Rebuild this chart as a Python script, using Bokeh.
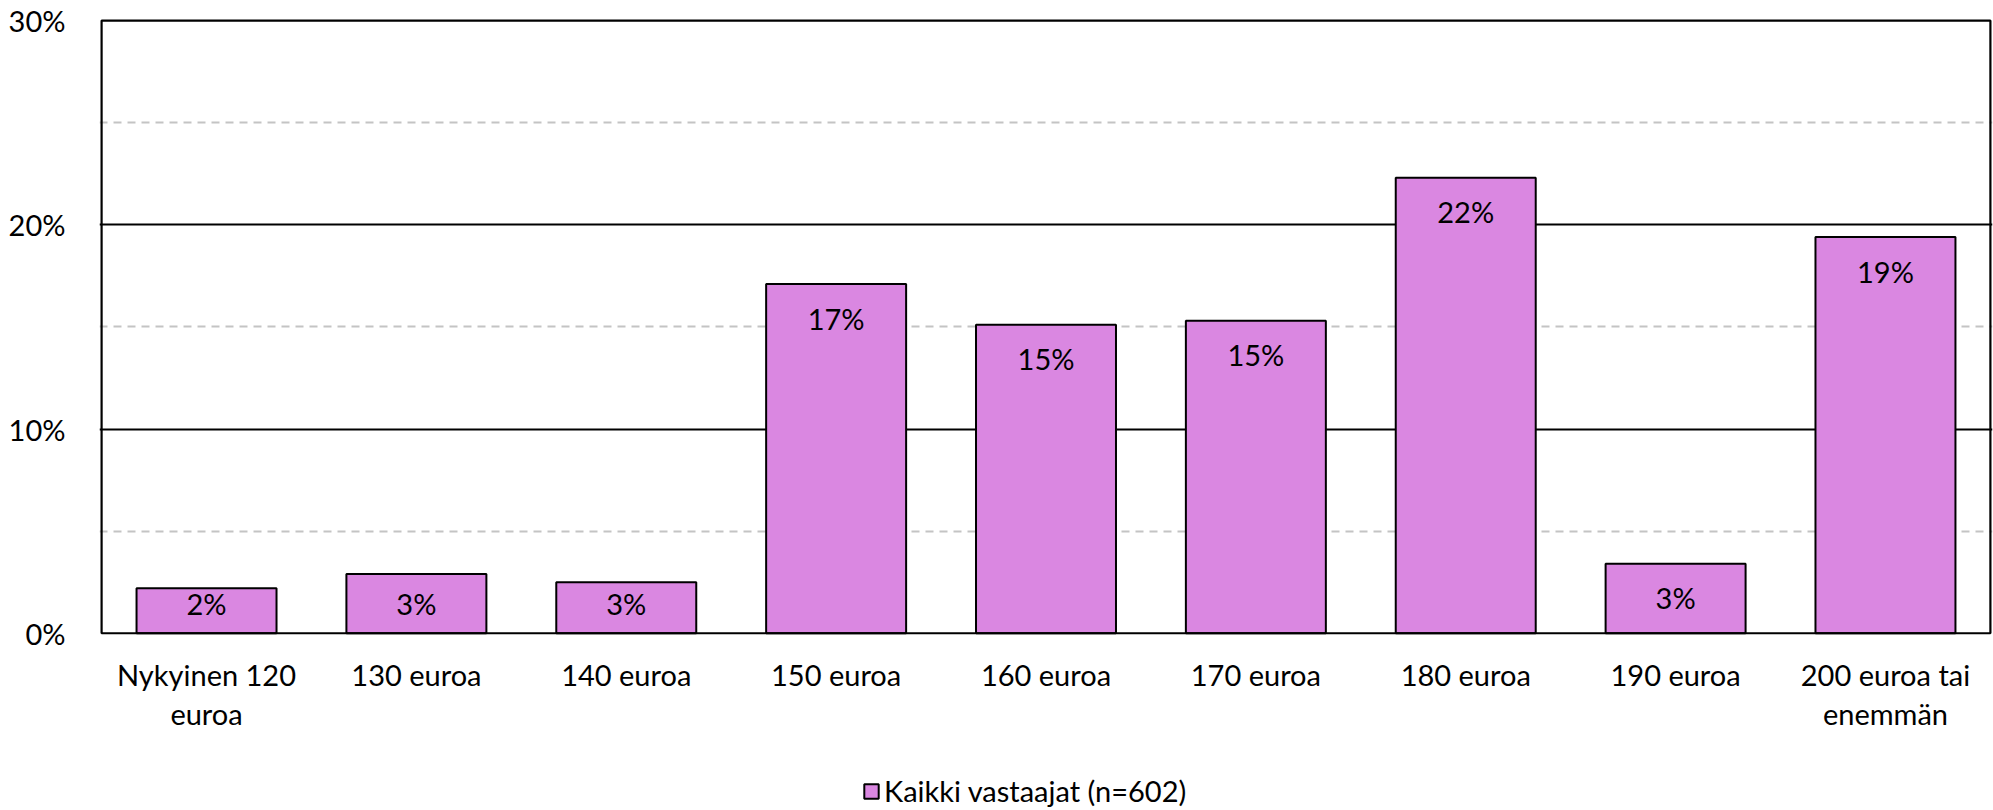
from bokeh.plotting import figure
from bokeh.models import (FactorRange, Range1d, FixedTicker, PrintfTickFormatter,
                          ColumnDataSource, Legend, LegendItem, BoxAnnotation)
from bokeh.core.properties import value
from bokeh.embed import file_html
from bokeh.resources import INLINE

categories = ["Nykyinen 120\neuroa", "130 euroa", "140 euroa", "150 euroa", "160 euroa",
              "170 euroa", "180 euroa", "190 euroa", "200 euroa tai\nenemmän"]
values = [2.2, 2.9, 2.5, 17.1, 15.1, 15.3, 22.3, 3.4, 19.4]
series_name = "Kaikki vastaajat (n=602)"
y_ticks = [0, 10, 20, 30]
y_minor = [5, 15, 25]

FONT = "Lato"
FS = "29px"

labels = ["%d%%" % int(v + 0.5) for v in values]
label_y = [v - 1.67 if v > 3.34 else max(v / 2, 1.45) for v in values]
src = ColumnDataSource(dict(cat=categories, val=values, lab=labels, ly=label_y,
                            base=[0] * len(values)))

p = figure(x_range=FactorRange(factors=categories, range_padding=0.01,
                               range_padding_units="absolute"),
           y_range=Range1d(-8.68, 30.1),
           width=1993, height=810, output_backend="svg", toolbar_location=None,
           min_border_left=99, min_border_right=1, min_border_top=18, min_border_bottom=0)
p.outline_line_color = None

p.xgrid.grid_line_color = None
p.ygrid.ticker = FixedTicker(ticks=y_ticks[1:-1], minor_ticks=y_minor)
p.ygrid.grid_line_color = "black"
p.ygrid.grid_line_width = 2.2
p.ygrid.minor_grid_line_color = "#C4C4C4"
p.ygrid.minor_grid_line_width = 2
p.ygrid.minor_grid_line_dash = "8 6"

bars = p.vbar(x="cat", top="val", width=0.667, source=src, fill_color="#DA87E1",
              line_color="black", line_width=2)
p.text(x="cat", y="ly", text="lab", source=src, text_align="center", text_baseline="middle",
       text_font=value(FONT), text_font_size=FS, text_color="black")
# category labels under the plot box
p.text(x="cat", y="base", text="cat", source=src, text_align="center", text_baseline="top",
       y_offset=24, text_line_height=1.12,
       text_font=value(FONT), text_font_size=FS, text_color="black")

# plot box (0..30 %)
p.add_layout(BoxAnnotation(left=0, right=len(categories), bottom=y_ticks[0], top=y_ticks[-1],
                           fill_alpha=0, line_color="black", line_alpha=1, line_width=2.2))

p.xaxis.visible = False
p.yaxis.ticker = FixedTicker(ticks=y_ticks)
p.yaxis.formatter = PrintfTickFormatter(format="%d%%")
p.yaxis.axis_line_color = None
p.yaxis.major_tick_line_color = None
p.yaxis.minor_tick_line_color = None
p.yaxis.major_label_standoff = 28
p.yaxis.major_label_text_font = FONT
p.yaxis.major_label_text_font_size = FS
p.yaxis.major_label_text_color = "black"

legend = Legend(items=[LegendItem(label=series_name, renderers=[bars])],
                location=(763, 2), glyph_width=18, glyph_height=18, label_standoff=4,
                padding=0, spacing=0, margin=0, border_line_alpha=0, background_fill_alpha=0,
                label_text_font=FONT, label_text_font_size=FS, label_text_color="black")
p.add_layout(legend, "center")

open("out.html", "w").write(file_html(p, INLINE))
